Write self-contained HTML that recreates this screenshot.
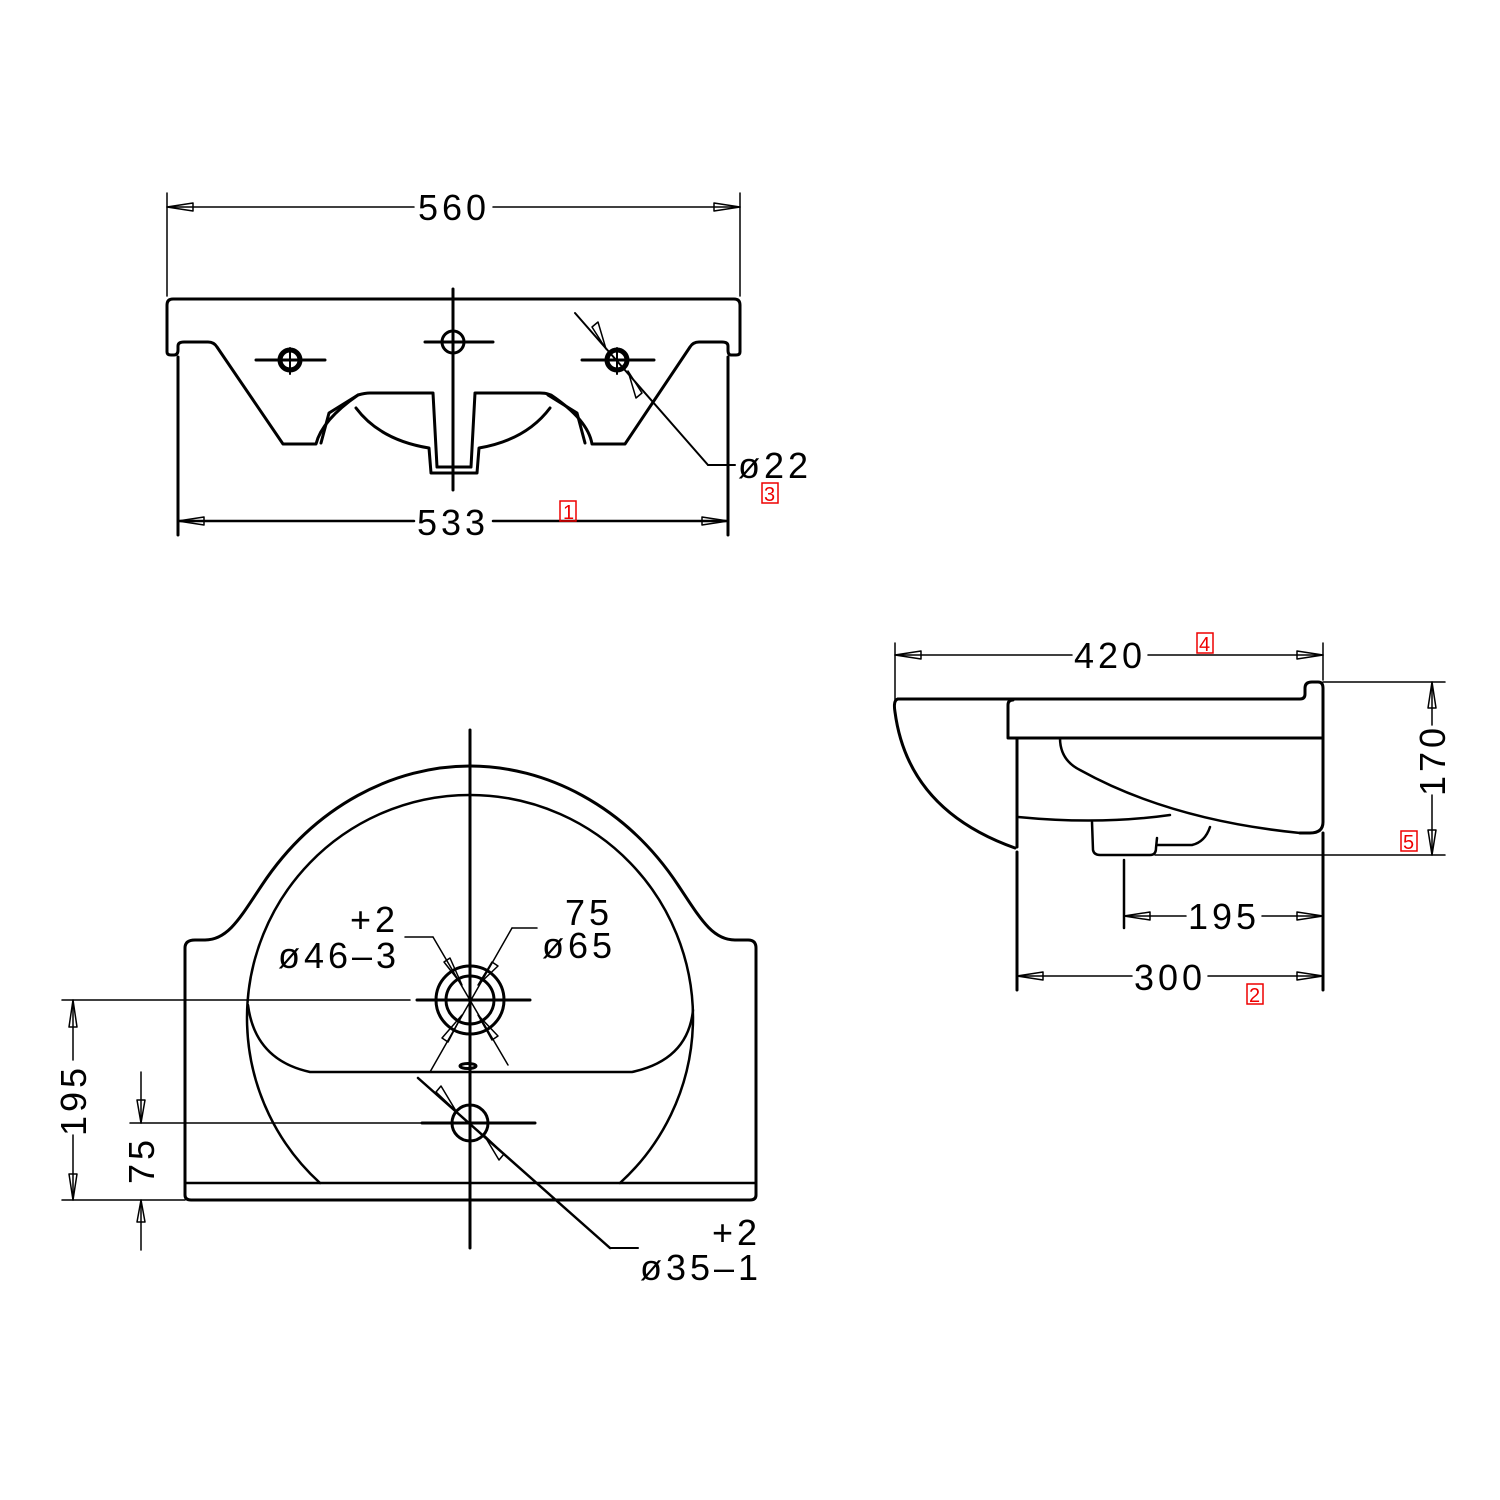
<!DOCTYPE html>
<html><head><meta charset="utf-8"><style>
html,body{margin:0;padding:0;background:#fff;}
svg{display:block;}
text{font-family:"Liberation Sans",sans-serif;fill:#000;}
.t{font-size:36px;letter-spacing:4px;}
.r{font-size:20px;fill:#e00;}
</style></head><body>
<svg width="1500" height="1500" viewBox="0 0 1500 1500" xmlns="http://www.w3.org/2000/svg">
<g fill="none" stroke="#000" stroke-width="3" stroke-linejoin="round" stroke-linecap="round">
<!-- ===== TOP VIEW ===== -->
<path d="M167,352 L167,305 Q167,299 173,299 L734,299 Q740,299 740,305 L740,352 Q740,355 736,355 L731,355 Q728,355 728,350 L728,346 Q728,342 722,342 L699,342 Q693,342 690,347 L625,444 L592,444 Q588,420 551,395 L548,394 Q545,393 540,393 L475,393 L471,467 L437,467 L433,393 L370,393 Q365,393 358,395 Q322,420 316,444 L283,444 L217,347 Q214,342 208,342 L184,342 Q178,342 178,346 L178,350 Q178,355 174,355 L171,355 Q167,355 167,352"/>
<path d="M321,443 L329,413 L358,395"/>
<path d="M585,443 L577,413 L548,395"/>
<path d="M356,408 Q380,440 429,448 L431,473 L477,473 L479,448 Q526,440 550,408"/>
<line x1="178" y1="357" x2="178" y2="535"/>
<line x1="728" y1="357" x2="728" y2="535"/>
<line x1="453" y1="289" x2="453" y2="490"/>
<circle cx="290" cy="360" r="10" stroke-width="5"/>
<circle cx="617" cy="360" r="10" stroke-width="5"/>
<circle cx="453" cy="342" r="11"/>
<line x1="256" y1="360" x2="325" y2="360"/><line x1="290" y1="348" x2="290" y2="374" stroke-width="2"/>
<line x1="582" y1="360" x2="654" y2="360"/><line x1="617" y1="348" x2="617" y2="374" stroke-width="2"/>
<line x1="425" y1="342" x2="493" y2="342"/>
<line x1="575" y1="313" x2="708" y2="465" stroke-width="2"/><line x1="708" y1="465" x2="735" y2="465" stroke-width="2"/>
<g stroke-width="1.5"><polygon points="606,349 592,327 598,322"/><polygon points="628,371 642,393 636,398"/></g>
<!-- dims top -->
<g stroke-width="1.5">
<line x1="167" y1="193" x2="167" y2="296"/><line x1="740" y1="193" x2="740" y2="296"/>
<line x1="167" y1="207" x2="414" y2="207"/><line x1="493" y1="207" x2="740" y2="207"/>
<polygon points="167,207 193,203 193,211"/><polygon points="740,207 714,203 714,211"/>
<line x1="178" y1="521" x2="414" y2="521" stroke-width="2.5"/><line x1="493" y1="521" x2="728" y2="521" stroke-width="2.5"/>
<polygon points="178,521 204,517 204,525"/><polygon points="728,521 702,517 702,525"/>
</g>

<!-- ===== PLAN VIEW ===== -->
<path d="M185,1195 L185,948 Q185,940 195,940 L205,940 C228,940 240,918 262,885 C315,805 395,766 470,766 C545,766 625,805 678,885 C700,918 712,940 735,940 L748,940 Q756,940 756,948 L756,1195 Q756,1200 750,1200 L191,1200 Q185,1200 185,1195"/>
<line x1="186" y1="1183" x2="755" y2="1183" stroke-width="2.5"/>
<path d="M320,1183 A223,223 0 1 1 620,1183" stroke-width="2.5"/>
<path d="M248,1005 Q255,1060 310,1072 L632,1072 Q688,1060 693,1010" stroke-width="2.5"/>
<circle cx="470" cy="1000" r="34"/>
<circle cx="470" cy="1000" r="24"/>
<line x1="417" y1="1000" x2="530" y2="1000"/>
<line x1="470" y1="730" x2="470" y2="1248"/>
<ellipse cx="468" cy="1066" rx="8" ry="2.5"/>
<circle cx="470" cy="1123" r="18"/>
<line x1="422" y1="1123" x2="535" y2="1123"/>
<g stroke-width="1.5">
<line x1="433" y1="937" x2="508" y2="1065"/><line x1="405" y1="937" x2="433" y2="937"/>
<line x1="512" y1="928" x2="430" y2="1072"/><line x1="512" y1="928" x2="537" y2="928"/>
<polygon points="462,985 444,962 450,958"/>
<polygon points="478,985 492,962 498,966"/>
<polygon points="462,1015 448,1042 442,1038"/>
<polygon points="478,1015 492,1040 498,1036"/>
<line x1="418" y1="1078" x2="610" y2="1248" stroke-width="2.5"/><line x1="610" y1="1248" x2="638" y2="1248" stroke-width="2"/>
<polygon points="456,1111 436,1092 441,1086"/>
<polygon points="484,1135 504,1154 499,1160"/>
<!-- 195 / 75 -->
<line x1="62" y1="1000" x2="410" y2="1000"/>
<line x1="62" y1="1200" x2="185" y2="1200"/>
<line x1="130" y1="1123" x2="422" y2="1123"/>
<line x1="73" y1="1000" x2="73" y2="1060"/><line x1="73" y1="1135" x2="73" y2="1200"/>
<polygon points="73,1000 69,1027 77,1027"/><polygon points="73,1200 69,1174 77,1174"/>
<line x1="141" y1="1072" x2="141" y2="1123"/><line x1="141" y1="1200" x2="141" y2="1250"/>
<polygon points="141,1123 137,1100 145,1100"/><polygon points="141,1200 137,1222 145,1222"/>
<!-- SIDE VIEW -->
<line x1="895" y1="643" x2="895" y2="700"/><line x1="1323" y1="643" x2="1323" y2="680"/>
<line x1="895" y1="655" x2="1072" y2="655"/><line x1="1148" y1="655" x2="1323" y2="655"/>
<polygon points="895,655 921,651 921,659"/><polygon points="1323,655 1297,651 1297,659"/>
<line x1="1323" y1="682" x2="1445" y2="682"/>
<line x1="1155" y1="855" x2="1445" y2="855"/>
<line x1="1432" y1="682" x2="1432" y2="725"/><line x1="1432" y1="795" x2="1432" y2="855"/>
<polygon points="1432,682 1428,708 1436,708"/><polygon points="1432,855 1428,830 1436,830"/>
<line x1="1124" y1="860" x2="1124" y2="928" stroke-width="2.5"/>
<line x1="1124" y1="916" x2="1186" y2="916"/><line x1="1262" y1="916" x2="1323" y2="916"/>
<polygon points="1124,916 1150,912 1150,920"/><polygon points="1323,916 1297,912 1297,920"/>
<line x1="1017" y1="976" x2="1132" y2="976"/><line x1="1208" y1="976" x2="1323" y2="976"/>
<polygon points="1017,976 1043,972 1043,980"/><polygon points="1323,976 1297,972 1297,980"/>
</g>
<path d="M898,699 L1300,699 Q1305,699 1305,694 L1305,688 Q1305,682 1312,682 L1318,682 Q1323,682 1323,688 L1323,822 Q1323,833 1310,833 L1300,833"/>
<path d="M898,699 Q893,700 895,712 Q908,810 1015,848"/>
<path d="M1008,738 L1008,705 Q1008,700 1013,700 M1008,738 L1323,738" stroke-width="3"/>
<line x1="1017" y1="738" x2="1017" y2="847"/>
<line x1="1017" y1="852" x2="1017" y2="990"/>
<line x1="1323" y1="833" x2="1323" y2="990"/>
<path d="M1060,738 Q1060,760 1080,770 Q1170,820 1300,833" stroke-width="2.5"/>
<path d="M1018,817 Q1100,825 1170,815" stroke-width="2.5"/>
<path d="M1092,822 L1093,850 Q1094,855 1100,855 L1150,855 Q1156,855 1156,848 L1157,838 M1157,845 L1192,845 Q1205,842 1210,827" stroke-width="2.5"/>
</g>

<!-- TEXT -->
<text class="t" x="418" y="220">560</text>
<text class="t" x="417" y="535">533</text>
<text class="t" x="738" y="478">ø22</text>
<text class="t" x="1074" y="668">420</text>
<text class="t" x="1188" y="929">195</text>
<text class="t" x="1134" y="990">300</text>
<text class="t" transform="translate(1445,760) rotate(-90)" text-anchor="middle">170</text>
<text class="t" transform="translate(86,1100) rotate(-90)" text-anchor="middle">195</text>
<text class="t" transform="translate(154,1160) rotate(-90)" text-anchor="middle">75</text>
<text class="t" x="350" y="932">+2</text>
<text class="t" x="278" y="968">ø46–3</text>
<text class="t" x="565" y="925">75</text>
<text class="t" x="542" y="958">ø65</text>
<text class="t" x="712" y="1245">+2</text>
<text class="t" x="640" y="1280">ø35–1</text>

<g fill="none" stroke="#e00" stroke-width="1.5">
<rect x="560" y="501" width="16" height="20"/>
<rect x="762" y="483" width="16" height="20"/>
<rect x="1197" y="633" width="16" height="20"/>
<rect x="1401" y="831" width="16" height="20"/>
<rect x="1247" y="984" width="16" height="20"/>
</g>
<text class="r" x="563" y="519">1</text>
<text class="r" x="764" y="501">3</text>
<text class="r" x="1199" y="651">4</text>
<text class="r" x="1403" y="849">5</text>
<text class="r" x="1249" y="1002">2</text>
</svg>
</body></html>
